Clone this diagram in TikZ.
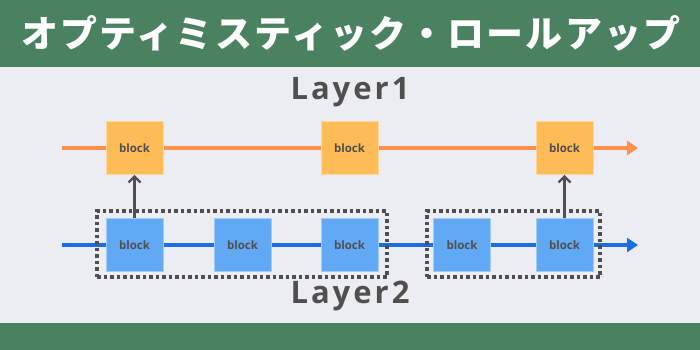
\documentclass[tikz,border=0pt]{standalone}
\usepackage{fontspec}
\setmainfont{Open Sans}
\newfontfamily\cjk{Noto Sans CJK JP}[LetterSpace=6]
\usetikzlibrary{arrows.meta}
\definecolor{bg}{HTML}{EBEDF2}
\definecolor{band}{HTML}{4A8161}
\definecolor{oline}{HTML}{FF914D}
\definecolor{oblock}{HTML}{FFBB55}
\definecolor{bline}{HTML}{1A6FE6}
\definecolor{bblock}{HTML}{62A9F5}
\definecolor{txtgray}{HTML}{4F4F4F}
\tikzset{
  blk/.style={minimum width=57pt, minimum height=53pt, inner sep=0pt, draw=#1!60!white, line width=0.6pt, fill=#1, font=\bfseries\fontsize{11.5}{12}\selectfont, text=txtgray},
  flow/.style={line width=3.8pt, draw=#1, -{Triangle[length=11pt,width=14pt]}},
  lift/.style={line width=2.8pt, draw=txtgray, -{Straight Barb[length=6pt,width=12pt,line width=2.4pt]}},
  grp/.style={draw=txtgray, line width=3.5pt, dash pattern=on 3.5pt off 3pt},
  layer/.style={font=\bfseries\fontsize{31}{34}\selectfont, text=txtgray}
}
\begin{document}
\begin{tikzpicture}[x=1pt,y=-1pt]
\useasboundingbox (0,0) rectangle (700,350);
\fill[bg] (0,0) rectangle (700,350);
\fill[band] (0,0) rectangle (700,67);
\fill[band] (0,323) rectangle (700,350);
\node[text=white, font=\cjk\bfseries\fontsize{37}{40}\selectfont] (title) at (351,33) {オプティミスティック・ロールアップ};
\node[layer] (l1) at (350,92) {L\kern3pt a\kern3pt y\kern3pt e\kern3pt r\kern3pt 1};
\node[layer] (l2) at (350,296) {L\kern3pt a\kern3pt y\kern3pt e\kern3pt r\kern3pt 2};
% flow lines
\coordinate (os) at (62,148);
\coordinate (oe) at (638,148);
\coordinate (bs) at (62,245);
\coordinate (be) at (638,245);
\draw[flow=oline] (os) -- (oe);
\draw[flow=bline] (bs) -- (be);
% groups
\node[grp, minimum width=290pt, minimum height=66pt, inner sep=0pt] (g1) at (242,244) {};
\node[grp, minimum width=173pt, minimum height=66pt, inner sep=0pt] (g2) at (513.5,244) {};
% blocks
\node[blk=oblock] (o1) at (134.5,148) {block};
\node[blk=oblock] (o2) at (349.5,148) {block};
\node[blk=oblock] (o3) at (564.5,148) {block};
\node[blk=bblock] (b1) at (134.5,245) {block};
\node[blk=bblock] (b2) at (242.5,245) {block};
\node[blk=bblock] (b3) at (349.5,245) {block};
\node[blk=bblock] (b4) at (462,245) {block};
\node[blk=bblock] (b5) at (564.5,245) {block};
\draw[lift] (b1.north) -- (o1.south);
\draw[lift] (b5.north) -- (o3.south);
\end{tikzpicture}
\end{document}
